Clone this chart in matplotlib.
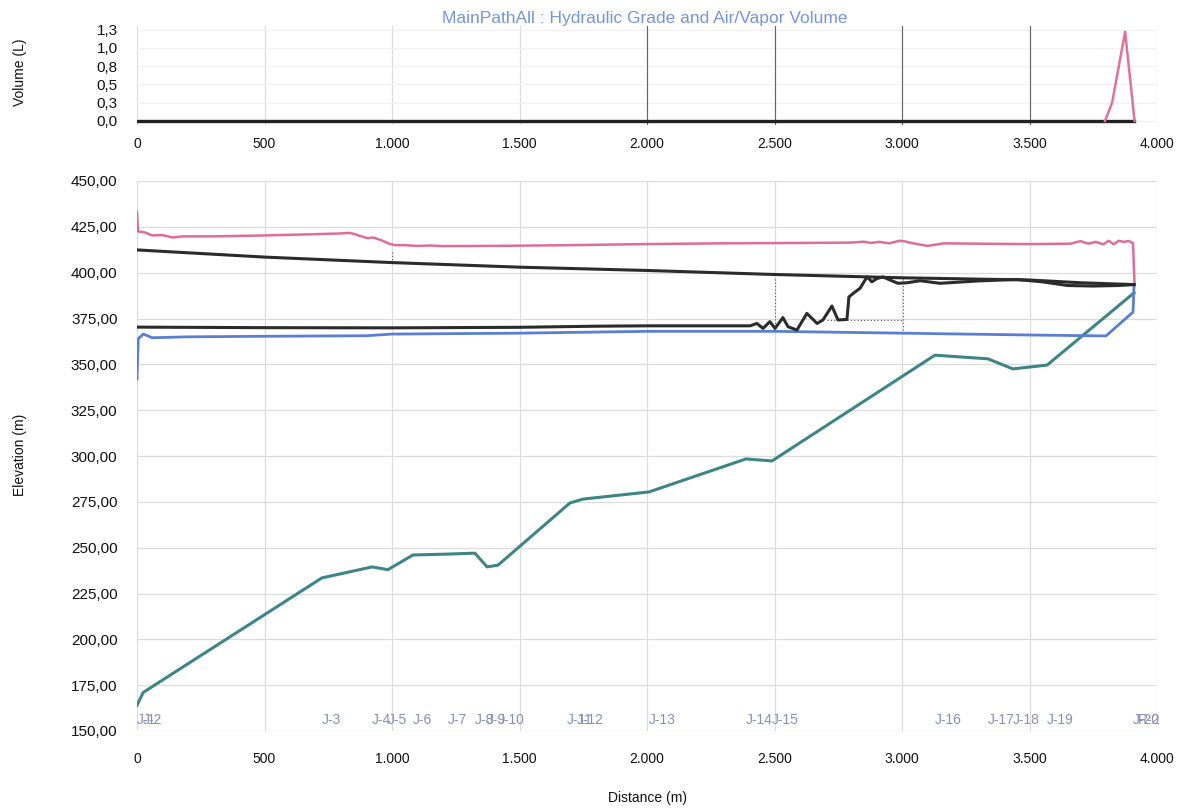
import matplotlib
matplotlib.use("Agg")
import matplotlib.pyplot as plt

plt.rcParams['font.family'] = ['Liberation Sans', 'DejaVu Sans']

# ---------------- data ----------------
# top panel: air/vapor volume (L)
vol_zero_x = [0, 3910]
vol_zero_y = [0.0, 0.0]
vol_x = [3796, 3824, 3875, 3912]
vol_y = [0.0, 0.25, 1.22, 0.0]
vol_ticks = [0.0, 0.25, 0.5, 0.75, 1.0, 1.25]
vol_ticklabels = ['0,0', '0,3', '0,5', '0,8', '1,0', '1,3']

dist_ticks = [0, 500, 1000, 1500, 2000, 2500, 3000, 3500, 4000]
dist_ticklabels = ['0', '500', '1.000', '1.500', '2.000', '2.500', '3.000', '3.500', '4.000']

elev_ticks = [150, 175, 200, 225, 250, 275, 300, 325, 350, 375, 400, 425, 450]
elev_ticklabels = ['150,00', '175,00', '200,00', '225,00', '250,00', '275,00', '300,00',
                   '325,00', '350,00', '375,00', '400,00', '425,00', '450,00']

# maximum hydraulic grade (pink)
hgl_max_x = [0, 4, 30, 60, 100, 140, 180, 300, 500, 700, 800, 830, 850, 880, 905, 925, 960,
             985, 1010, 1050, 1100, 1150, 1200, 1400, 1700, 2000, 2300, 2600, 2800, 2850,
             2880, 2910, 2950, 2990, 3010, 3040, 3100, 3165, 3300, 3500, 3660, 3700, 3730,
             3760, 3790, 3810, 3830, 3850, 3870, 3890, 3906, 3912]
hgl_max_y = [433, 422.5, 422, 420.3, 420.5, 419.2, 419.8, 419.8, 420.3, 421, 421.4, 421.7,
             421.2, 419.8, 418.8, 419.2, 417.6, 416, 415, 415, 414.6, 414.8, 414.5, 414.6,
             415, 415.6, 416, 416.2, 416.4, 416.9, 416.2, 416.8, 416.0, 417.4, 417.1,
             416.1, 414.6, 416.0, 415.8, 415.6, 415.8, 417.2, 415.8, 416.8, 415.4, 417.4,
             415.5, 417.4, 416.8, 417.3, 416.0, 393.5]

# steady/initial hydraulic grade (black, upper)
hgl_init_x = [0, 500, 1000, 1500, 2000, 2500, 2863, 3000, 3500, 3700, 3910]
hgl_init_y = [412.4, 408.5, 405.5, 403, 401.2, 399, 397.7, 397.2, 396, 394.5, 393.5]

# transient hydraulic grade (black, lower)
hgl_tr_x = [0, 500, 1000, 1500, 1800, 2000, 2300, 2404, 2431, 2455, 2482, 2502, 2533, 2553,
            2588, 2627, 2667, 2690, 2725, 2749, 2784, 2792, 2816, 2835, 2863, 2882, 2902,
            2925, 2953, 2984, 3020, 3071, 3149, 3300, 3450, 3550, 3650, 3750, 3850, 3910]
hgl_tr_y = [370.3, 370, 369.9, 370.2, 370.8, 371, 371, 371, 372.3, 369.6, 373.3, 369.6,
            375.5, 370.5, 368.7, 377.8, 372.3, 374.2, 381.8, 374.2, 374.5, 386.8, 389.5,
            391.4, 397.7, 395, 396.8, 397.7, 396, 394.2, 394.5, 395.6, 394.2, 395.5, 396.3,
            395, 393, 392.7, 393, 393.5]

# minimum hydraulic grade (blue)
hgl_min_x = [0, 5, 25, 60, 200, 500, 900, 1000, 1500, 2000, 2500, 3000, 3500, 3800, 3906, 3910]
hgl_min_y = [342, 364, 366.5, 364.5, 365, 365.3, 365.6, 366.5, 367, 368, 368, 367, 366,
             365.5, 378.5, 393]

# ground elevation (teal)
ground_x = [0, 24, 725, 922, 984, 1082, 1220, 1325, 1373, 1416, 1698, 1749, 2008, 2388,
            2490, 3129, 3337, 3435, 3569, 3910]
ground_y = [164, 171, 233.5, 239.5, 238, 246, 246.5, 247, 239.5, 240.5, 274.4, 276.5,
            280.4, 298.4, 297.3, 355, 353, 347.5, 349.6, 389]

node_names = ['J-1', 'J-2', 'J-3', 'J-4', 'J-5', 'J-6', 'J-7', 'J-8', 'J-9', 'J-10',
              'J-11', 'J-12', 'J-13', 'J-14', 'J-15', 'J-16', 'J-17', 'J-18', 'J-19',
              'J-20', 'R-2']
node_x = [0, 24, 725, 922, 984, 1082, 1220, 1325, 1373, 1416, 1686, 1725, 2008, 2388,
          2490, 3129, 3337, 3435, 3569, 3906, 3925]

# ---------------- figure ----------------
W, H = 1184, 809
fig = plt.figure(figsize=(W / 100, H / 100), dpi=100)

def frac_x(px):
    return px / W

def frac_y(py):
    return 1 - py / H

left = frac_x(137)
width = frac_x(1157) - left

# top axes: 0 at py 121, 1.25 at py 29.5  -> 73.2 px per unit
ylo, yhi = -0.06, 1.30
ppu = 73.2
top_bottom_py = 121 + (0 - ylo) * ppu
top_h_px = (yhi - ylo) * ppu
ax1 = fig.add_axes([left, frac_y(top_bottom_py), width, top_h_px / H])

# main axes
ax2 = fig.add_axes([left, frac_y(731), width, (731 - 181) / H])

grid_c = '#dcdcdc'
tick_c = '#111111'
for ax in (ax1, ax2):
    for s in ax.spines.values():
        s.set_visible(False)
    ax.tick_params(length=0, labelsize=10, colors=tick_c)
    ax.tick_params(axis='y', labelsize=11, pad=14)
    ax.set_xlim(0, 4000)
    ax.set_xticks(dist_ticks)
    ax.set_xticklabels(dist_ticklabels)
    ax.grid(True, color=grid_c, linewidth=0.9)
    ax.set_axisbelow(True)

ax1.set_ylim(ylo, yhi)
ax1.set_yticks(vol_ticks)
ax1.set_yticklabels(vol_ticklabels)
ax1.tick_params(axis='x', pad=8)
ax1.grid(True, axis='y', color='#f0f0f0', linewidth=0.8)
# darker scanned grid lines in the upper right region
for xv in [2000, 2500, 3000, 3500]:
    ax1.axvline(xv, color='#666666', linewidth=0.8, zorder=1)

ax1.plot(vol_zero_x, vol_zero_y, color='#222222', linewidth=2.4, zorder=3)
ax1.plot(vol_x, vol_y, color='#e0709c', linewidth=1.8, zorder=4)

ax2.set_ylim(150, 450)
ax2.set_yticks(elev_ticks)
ax2.set_yticklabels(elev_ticklabels)
ax2.tick_params(axis='x', pad=15)

# faint dotted artefact lines
ax2.plot([2500, 2500], [368.5, 397], color='#555555', linewidth=0.8, linestyle=(0, (1, 2)), zorder=2)
ax2.plot([3004, 3004], [368.5, 397], color='#555555', linewidth=0.8, linestyle=(0, (1, 2)), zorder=2)
ax2.plot([2706, 3004], [374.2, 374.2], color='#555555', linewidth=0.8, linestyle=(0, (1, 2)), zorder=2)
ax2.plot([1000, 1000], [405, 411], color='#555555', linewidth=0.8, linestyle=(0, (1, 2)), zorder=2)

ax2.plot(ground_x, ground_y, color='#3e8585', linewidth=2.2, zorder=3)
ax2.plot(hgl_min_x, hgl_min_y, color='#5a7fd2', linewidth=2.0, zorder=4)
ax2.plot(hgl_max_x, hgl_max_y, color='#de6d9a', linewidth=1.8, zorder=4)
ax2.plot(hgl_init_x, hgl_init_y, color='#2b2b2b', linewidth=2.2, zorder=5)
ax2.plot(hgl_tr_x, hgl_tr_y, color='#2b2b2b', linewidth=2.2, zorder=5)

for name, xv in zip(node_names, node_x):
    ax2.text(xv, 156, name, ha='left', va='center', fontsize=10,
             color='#8690b3', clip_on=False, zorder=6)

fig.text(frac_x(645), frac_y(19), 'MainPathAll : Hydraulic Grade and Air/Vapor Volume',
         ha='center', va='center', fontsize=12.5, color='#7595da')
fig.text(frac_x(20), frac_y(72), 'Volume (L)', rotation=90, ha='center', va='center',
         fontsize=10, color=tick_c)
fig.text(frac_x(20), frac_y(455), 'Elevation (m)', rotation=90, ha='center', va='center',
         fontsize=10, color=tick_c)
fig.text(frac_x(647), frac_y(798), 'Distance (m)', ha='center', va='center',
         fontsize=10, color=tick_c)

fig.savefig('out.png', dpi=100, facecolor='white')
